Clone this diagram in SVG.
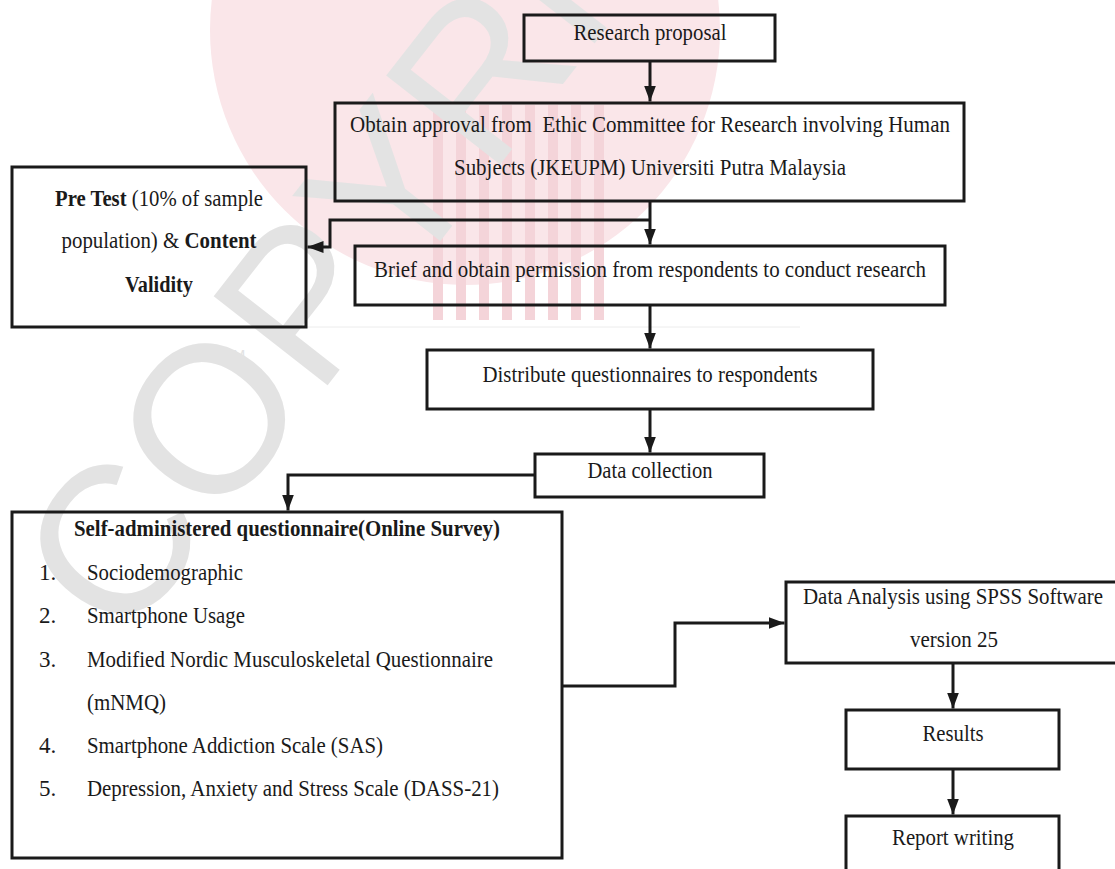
<svg xmlns="http://www.w3.org/2000/svg" width="1115" height="869" viewBox="0 0 1115 869">
  <style>
    .box { fill: none; stroke: #1a1a1a; stroke-width: 3; }
    .conn { fill: none; stroke: #1a1a1a; stroke-width: 3; }
    .t { font-family: "Liberation Serif", "Times New Roman", serif; font-size: 23px; fill: #1a1a1a; }
    .b { font-weight: bold; }
    .wm { font-family: "Liberation Sans", Arial, sans-serif; fill: #e3e3e3; }
  </style>
  <defs>
    <marker id="ah" viewBox="0 0 16 12" refX="16" refY="6" markerWidth="16" markerHeight="12" markerUnits="userSpaceOnUse" orient="auto">
      <path d="M0,0 L16,6 L0,12 z" fill="#1a1a1a"/>
    </marker>
    <clipPath id="stripeClip">
      <rect x="430" y="105" width="185" height="215"/>
    </clipPath>
  </defs>

  <rect x="0" y="0" width="1115" height="869" fill="#ffffff"/>

  <g id="watermark">
    <circle cx="465" cy="30" r="255" fill="#fae6e9"/>
    <g clip-path="url(#stripeClip)" fill="#f4d4d9">
      <rect x="433" y="105" width="10" height="215"/>
      <rect x="456" y="105" width="10" height="215"/>
      <rect x="479" y="105" width="10" height="215"/>
      <rect x="502" y="105" width="10" height="215"/>
      <rect x="525" y="105" width="10" height="215"/>
      <rect x="548" y="105" width="10" height="215"/>
      <rect x="571" y="105" width="10" height="215"/>
      <rect x="594" y="105" width="10" height="215"/>
    </g>
    <text class="wm" x="123" y="647" font-size="210" transform="rotate(-52 123 647)">COPYRIGHT</text>
    <text class="wm" x="212" y="360" font-size="15" fill="#cfcfcf">UPM</text>
    <line x1="306" y1="327" x2="800" y2="327" stroke="#ececec" stroke-width="1"/>
  </g>

  <g id="connectors">
    <path class="conn" d="M650,61 L650,101.5" marker-end="url(#ah)"/>
    <path class="conn" d="M650,201 L650,244.5" marker-end="url(#ah)"/>
    <path class="conn" d="M650,220 L330,220 L330,247 L307.5,247" marker-end="url(#ah)"/>
    <path class="conn" d="M650,305 L650,348.5" marker-end="url(#ah)"/>
    <path class="conn" d="M650,409 L650,452.5" marker-end="url(#ah)"/>
    <path class="conn" d="M535,475 L288,475 L288,510.5" marker-end="url(#ah)"/>
    <path class="conn" d="M562,686 L675,686 L675,623 L784.5,623" marker-end="url(#ah)"/>
    <path class="conn" d="M953,663 L953,708.5" marker-end="url(#ah)"/>
    <path class="conn" d="M953,769 L953,814.5" marker-end="url(#ah)"/>
  </g>

  <g id="research-proposal">
    <rect class="box" x="524" y="15" width="251" height="46"/>
    <text class="t" x="650" y="40" text-anchor="middle" textLength="153" lengthAdjust="spacingAndGlyphs">Research proposal</text>
  </g>

  <g id="ethics-approval">
    <rect class="box" x="335" y="103" width="629" height="98"/>
    <text class="t" x="650" y="132" text-anchor="middle" textLength="600" lengthAdjust="spacingAndGlyphs" xml:space="preserve">Obtain approval from  Ethic Committee for Research involving Human</text>
    <text class="t" x="650" y="175" text-anchor="middle" textLength="392" lengthAdjust="spacingAndGlyphs">Subjects (JKEUPM) Universiti Putra Malaysia</text>
  </g>

  <g id="pre-test">
    <rect class="box" x="12" y="167" width="294" height="160"/>
    <text class="t" x="159" y="206" text-anchor="middle" textLength="208" lengthAdjust="spacingAndGlyphs"><tspan class="b">Pre Test</tspan> (10% of sample</text>
    <text class="t" x="159" y="248" text-anchor="middle" textLength="195" lengthAdjust="spacingAndGlyphs">population) &amp; <tspan class="b">Content</tspan></text>
    <text class="t b" x="159" y="292" text-anchor="middle" textLength="68" lengthAdjust="spacingAndGlyphs">Validity</text>
  </g>

  <g id="brief-permission">
    <rect class="box" x="355" y="246" width="590" height="59"/>
    <text class="t" x="650" y="277" text-anchor="middle" textLength="552" lengthAdjust="spacingAndGlyphs">Brief and obtain permission from respondents to conduct research</text>
  </g>

  <g id="distribute">
    <rect class="box" x="427" y="350" width="446" height="59"/>
    <text class="t" x="650" y="382" text-anchor="middle" textLength="335" lengthAdjust="spacingAndGlyphs">Distribute questionnaires to respondents</text>
  </g>

  <g id="data-collection">
    <rect class="box" x="535" y="454" width="229" height="43"/>
    <text class="t" x="650" y="478" text-anchor="middle" textLength="125" lengthAdjust="spacingAndGlyphs">Data collection</text>
  </g>

  <g id="questionnaire">
    <rect class="box" x="12" y="512" width="550" height="346"/>
    <text class="t b" x="287" y="536" text-anchor="middle" textLength="426" lengthAdjust="spacingAndGlyphs">Self-administered questionnaire(Online Survey)</text>
    <text class="t" x="39" y="580">1.</text>
    <text class="t" x="87" y="580" textLength="156" lengthAdjust="spacingAndGlyphs">Sociodemographic</text>
    <text class="t" x="39" y="623">2.</text>
    <text class="t" x="87" y="623" textLength="158" lengthAdjust="spacingAndGlyphs">Smartphone Usage</text>
    <text class="t" x="39" y="667">3.</text>
    <text class="t" x="87" y="667" textLength="406" lengthAdjust="spacingAndGlyphs">Modified Nordic Musculoskeletal Questionnaire</text>
    <text class="t" x="87" y="710" textLength="79" lengthAdjust="spacingAndGlyphs">(mNMQ)</text>
    <text class="t" x="39" y="753">4.</text>
    <text class="t" x="87" y="753" textLength="296" lengthAdjust="spacingAndGlyphs">Smartphone Addiction Scale (SAS)</text>
    <text class="t" x="39" y="796">5.</text>
    <text class="t" x="87" y="796" textLength="412" lengthAdjust="spacingAndGlyphs">Depression, Anxiety and Stress Scale (DASS-21)</text>
  </g>

  <g id="data-analysis">
    <rect class="box" x="786" y="582" width="340" height="81"/>
    <text class="t" x="953" y="604" text-anchor="middle" textLength="300" lengthAdjust="spacingAndGlyphs">Data Analysis using SPSS Software</text>
    <text class="t" x="954" y="647" text-anchor="middle" textLength="88" lengthAdjust="spacingAndGlyphs">version 25</text>
  </g>

  <g id="results">
    <rect class="box" x="846" y="710" width="213" height="59"/>
    <text class="t" x="953" y="741" text-anchor="middle" textLength="61" lengthAdjust="spacingAndGlyphs">Results</text>
  </g>

  <g id="report-writing">
    <rect class="box" x="846" y="816" width="213" height="70"/>
    <text class="t" x="953" y="845" text-anchor="middle" textLength="122" lengthAdjust="spacingAndGlyphs">Report writing</text>
  </g>
</svg>
